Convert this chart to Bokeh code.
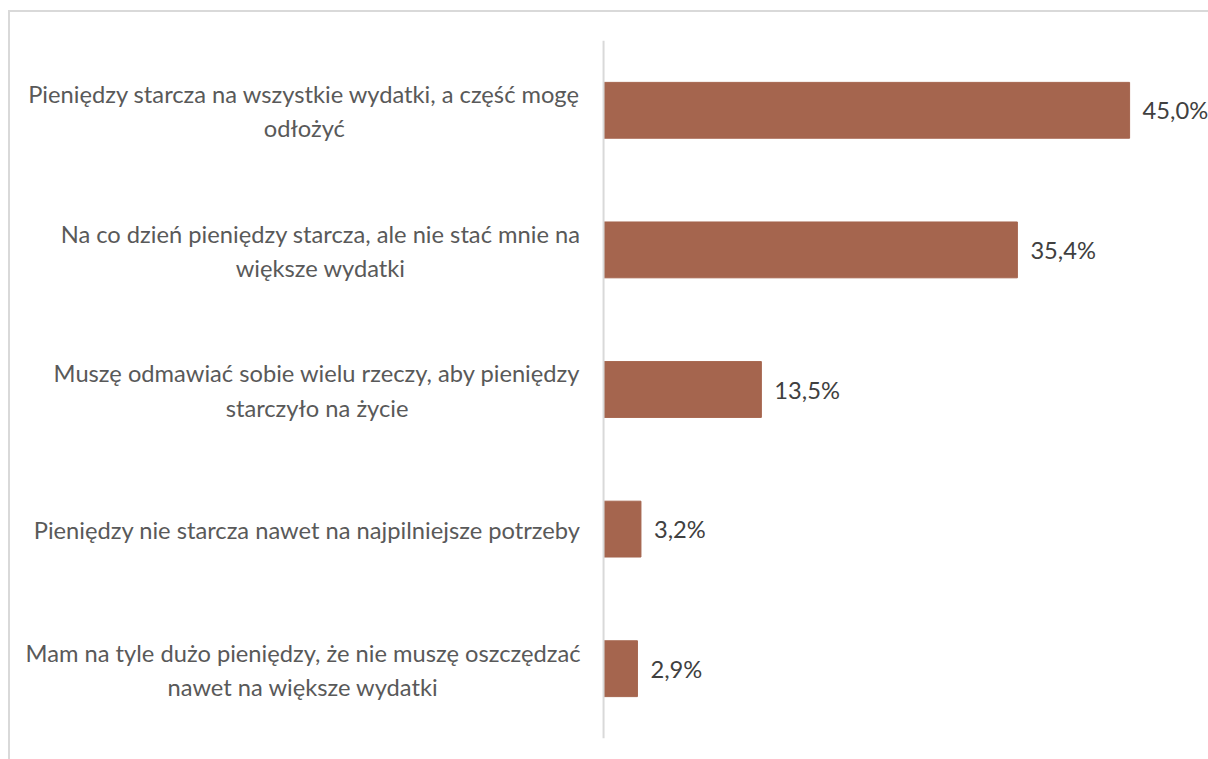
from bokeh.plotting import figure
from bokeh.models import ColumnDataSource, FactorRange, Span
from bokeh.core.properties import value
from bokeh.embed import file_html
from bokeh.resources import INLINE

categories = [
    "Pieniędzy starcza na wszystkie wydatki, a część mogę\nodłożyć",
    "Na co dzień pieniędzy starcza, ale nie stać mnie na\nwiększe wydatki",
    "Muszę odmawiać sobie wielu rzeczy, aby pieniędzy\nstarczyło na życie",
    "Pieniędzy nie starcza nawet na najpilniejsze potrzeby",
    "Mam na tyle dużo pieniędzy, że nie muszę oszczędzać\nnawet na większe wydatki",
]
values = [45.0, 35.4, 13.5, 3.2, 2.9]
value_labels = ["45,0%", "35,4%", "13,5%", "3,2%", "2,9%"]

src = ColumnDataSource(dict(y=categories, v=values, lab=value_labels,
                            zero=[0] * len(values)))

p = figure(width=1200, height=749, output_backend="svg", toolbar_location=None,
           y_range=FactorRange(*reversed(categories)), x_range=(-50.73, 51.92),
           x_axis_type=None, y_axis_type=None,
           min_border_left=0, min_border_right=0, min_border_top=28, min_border_bottom=23)
p.styles = {"border-left": "2px solid #d9d9d9", "border-top": "2px solid #d9d9d9",
            "margin-left": "8px", "margin-top": "10px"}
p.xgrid.visible = False
p.ygrid.visible = False
p.outline_line_color = None

p.hbar(y="y", right="v", left=0, height=0.4, source=src, color="#A5654E")
p.add_layout(Span(location=0, dimension="height", line_color="#d9d9d9", line_width=2))

# value labels
p.text(x="v", y="y", text="lab", source=src, x_offset=13, text_align="left",
       text_baseline="middle", text_font=value("Lato"), text_font_size="23.7px",
       text_color="#404040")

# category labels (right-anchored block, centred lines)
p.text(x="zero", y="y", text="y", source=src, x_offset=-23, y_offset=1,
       anchor=value("center_right"), text_align="center", text_baseline="middle",
       text_font=value("Lato"), text_font_size="23.7px", text_color="#595959",
       text_line_height=1.22)

open("out.html", "w").write(file_html(p, INLINE))
